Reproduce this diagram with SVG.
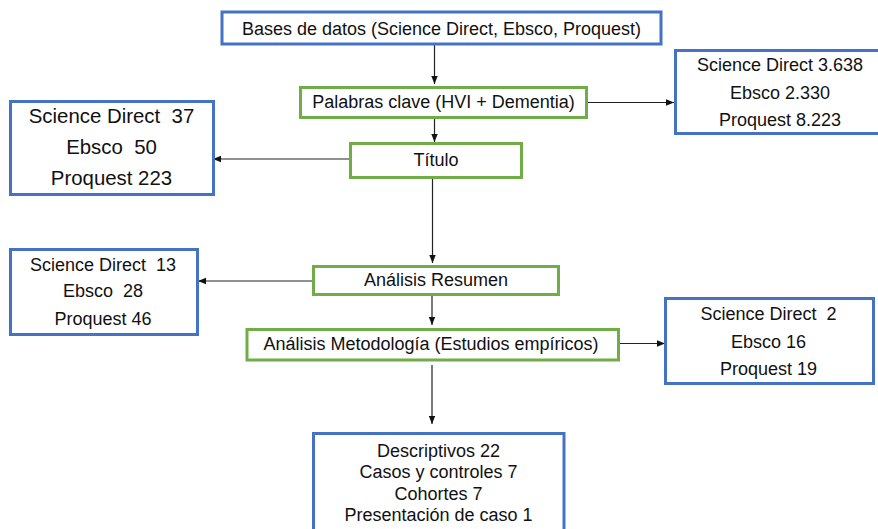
<svg xmlns="http://www.w3.org/2000/svg" width="878" height="529" viewBox="0 0 878 529">
<defs>
<style>
.b{fill:#fff;stroke:#4472C4;stroke-width:3}
.g{fill:#fff;stroke:#70AD47;stroke-width:3}
text{font-family:"Liberation Sans",Arial,sans-serif;font-size:18px;fill:#111;text-anchor:middle;white-space:pre}
.big{font-size:20.4px}
.c{stroke:#222;stroke-width:1.2;fill:none;marker-end:url(#a)}
</style>
<marker id="a" viewBox="0 0 8 8" refX="8" refY="4" markerWidth="8" markerHeight="8" markerUnits="userSpaceOnUse" orient="auto">
<path d="M0,0.8 L8,4 L0,7.2 Z" fill="#111"/>
</marker>
</defs>
<rect width="878" height="529" fill="#fff"/>
<g id="connectors">
<line class="c" x1="434.5" y1="44" x2="434.5" y2="84"/>
<line class="c" x1="434.5" y1="117" x2="434.5" y2="142"/>
<line class="c" x1="586" y1="102.5" x2="674" y2="102.5"/>
<line class="c" x1="350" y1="159" x2="213" y2="159"/>
<line class="c" x1="432.5" y1="177" x2="432.5" y2="263"/>
<line class="c" x1="313" y1="281" x2="198" y2="281"/>
<line class="c" x1="432" y1="295" x2="432" y2="325"/>
<line class="c" x1="619" y1="343.5" x2="665" y2="343.5"/>
<line class="c" x1="432" y1="365" x2="432" y2="424"/>
</g>
<g id="n1"><rect class="b" x="222" y="12" width="439" height="32"/><text x="441.5" y="34.5">Bases de datos (Science Direct, Ebsco, Proquest)</text></g>
<g id="n2"><rect class="g" x="300.5" y="87.5" width="286" height="30"/><text x="443.5" y="108">Palabras clave (HVI + Dementia)</text></g>
<g id="n3"><rect class="g" x="350.5" y="143.5" width="171" height="34"/><text x="436" y="166">Título</text></g>
<g id="n4"><rect class="b" x="10.5" y="101.5" width="203" height="93"/><text class="big" x="111.5" y="123" xml:space="preserve">Science Direct  37</text><text class="big" x="111.5" y="154" xml:space="preserve">Ebsco  50</text><text class="big" x="111.5" y="184.5">Proquest 223</text></g>
<g id="n5"><rect class="b" x="675.5" y="50.5" width="210" height="83"/><text x="780" y="71">Science Direct 3.638</text><text x="780" y="98.5">Ebsco 2.330</text><text x="780" y="126">Proquest 8.223</text></g>
<g id="n6"><rect class="g" x="313.5" y="266.5" width="245" height="28"/><text x="436" y="285.5">Análisis Resumen</text></g>
<g id="n7"><rect class="b" x="10.5" y="249.5" width="187" height="85"/><text x="103" y="270.5" xml:space="preserve">Science Direct  13</text><text x="103" y="297" xml:space="preserve">Ebsco  28</text><text x="103" y="325">Proquest 46</text></g>
<g id="n8"><rect class="g" x="247" y="329.5" width="371.5" height="30.5"/><text x="431" y="350">Análisis Metodología (Estudios empíricos)</text></g>
<g id="n9"><rect class="b" x="665.5" y="298.5" width="208" height="85"/><text x="768.5" y="319.5" xml:space="preserve">Science Direct  2</text><text x="768.5" y="347.5">Ebsco 16</text><text x="768.5" y="374.5">Proquest 19</text></g>
<g id="n10"><rect class="b" x="313.5" y="433.5" width="250.5" height="110"/><text x="438.5" y="456.5">Descriptivos 22</text><text x="438.5" y="478">Casos y controles 7</text><text x="438.5" y="499.5">Cohortes 7</text><text x="438.5" y="521">Presentación de caso 1</text></g>
</svg>
